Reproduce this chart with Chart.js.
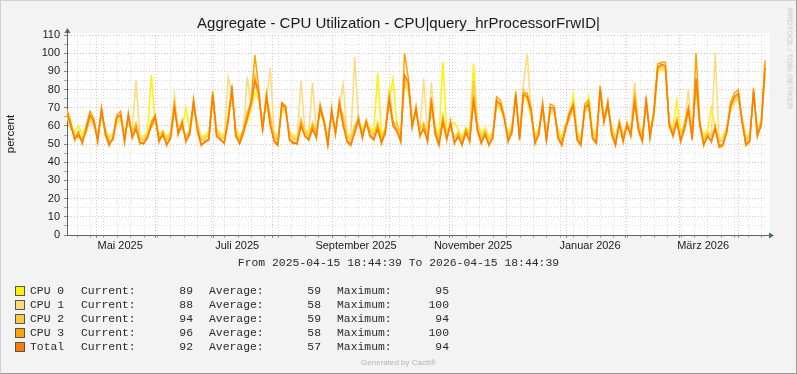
<!DOCTYPE html>
<html>
<head>
<meta charset="utf-8">
<script src="https://cdn.jsdelivr.net/npm/chart.js@4/dist/chart.umd.min.js"></script>
<style>
  html, body { margin: 0; padding: 0; }
  body { width: 797px; height: 374px; position: relative; overflow: hidden; background: #F3F3F3; }
  #frame { position: absolute; left: 0; top: 0; width: 797px; height: 374px; box-sizing: border-box;
           border-top: 1px solid #D0D0D0; border-left: 1px solid #D0D0D0;
           border-right: 1px solid #9A9A9A; border-bottom: 1px solid #9A9A9A; }
  #myChart { position: absolute; left: 0; top: 0; }
  .txt { position: absolute; white-space: pre; font-family: "Liberation Sans", Arial, sans-serif; color: #1a1a1a; }
  .mono { position: absolute; white-space: pre; font-family: "Liberation Mono", monospace; font-size: 11.4px; color: #2a2a2a; line-height: 14px; }
  .sw { position: absolute; width: 8px; height: 8px; border: 1px solid #555; }
</style>
</head>
<body>
<div id="frame"></div>
<canvas id="myChart" width="797" height="374"></canvas>
<div class="txt" id="title" style="left:0; width:797px; top:14px; text-align:center; font-size:15px;"></div>
<div class="txt" id="ylabel" style="left:-22px; top:128px; width:64px; text-align:center; font-size:11.5px; transform:rotate(-90deg);">percent</div>
<div class="txt" id="vendor" style="left:739px; top:54px; width:102px; text-align:center; font-size:8px; color:#C4C4C4; transform:rotate(90deg);">RRDTOOL / TOBI OETIKER</div>
<div class="mono" id="range" style="left:0; width:797px; top:256px; text-align:center;"></div>
<div id="legend"></div>
<div class="txt" style="left:0; width:797px; top:358px; text-align:center; font-size:8px; color:#B4B4B4;">Generated by Cacti®</div>
<script>
var chartTitle = "Aggregate - CPU Utilization - CPU|query_hrProcessorFrwID|";
var rangeText = "From 2025-04-15 18:44:39 To 2026-04-15 18:44:39";
var startTime = Date.UTC(2025, 3, 15, 18, 44, 39);
var endTime = Date.UTC(2026, 3, 15, 18, 44, 39);
var stepDays = 2;

var seriesNames = ["CPU 0", "CPU 1", "CPU 2", "CPU 3", "Total"];
var seriesColors = ["#FFF200", "#FFDA7A", "#FFC640", "#FFA300", "#FF7C00"];
var legendCurrent = [89, 88, 94, 96, 92];
var legendAverage = [59, 58, 59, 58, 57];
var legendMaximum = [95, 100, 94, 100, 94];

// x tick labels (month the label belongs to, text)
var xLabelMonths = [[2025, 4], [2025, 6], [2025, 8], [2025, 10], [2026, 0], [2026, 2]];
var xLabelTexts = ["Mai 2025", "Juli 2025", "September 2025", "November 2025", "Januar 2026", "März 2026"];
var yTickLabels = [0, 10, 20, 30, 40, 50, 60, 70, 80, 90, 100, 110];

// one value every 2 days
var cpu0 = [
  65, 58, 57, 60, 55, 60, 63, 61, 56, 65,
  58, 54, 56, 61, 63, 56, 62, 57, 60, 55,
  54, 57, 88, 61, 56, 57, 54, 57, 68, 59,
  58, 70, 57, 69, 62, 54, 55, 57, 76, 59,
  56, 55, 63, 76, 59, 54, 58, 62, 69, 78,
  74, 62, 73, 61, 57, 54, 68, 67, 57, 55,
  54, 61, 59, 56, 60, 58, 67, 62, 54, 65,
  60, 69, 61, 56, 54, 60, 62, 58, 63, 59,
  57, 89, 55, 59, 73, 86, 61, 56, 82, 79,
  62, 66, 59, 61, 56, 70, 60, 54, 95, 57,
  60, 62, 58, 54, 59, 57, 94, 62, 56, 59,
  54, 57, 71, 69, 64, 56, 60, 74, 57, 76,
  74, 65, 55, 59, 68, 56, 67, 67, 58, 54,
  61, 63, 77, 57, 54, 67, 76, 58, 55, 77,
  63, 69, 60, 54, 62, 56, 59, 59, 72, 61,
  56, 71, 58, 64, 89, 91, 90, 62, 59, 74,
  56, 60, 67, 57, 80, 60, 55, 58, 70, 59,
  53, 54, 60, 68, 73, 75, 64, 54, 56, 76,
  59, 62, 89
];
var cpu1 = [
  68, 59, 56, 53, 54, 56, 64, 60, 55, 66,
  57, 53, 55, 62, 64, 55, 63, 58, 85, 54,
  53, 56, 59, 62, 55, 56, 53, 56, 77, 57,
  59, 55, 56, 70, 61, 53, 54, 56, 75, 58,
  55, 54, 87, 78, 58, 53, 57, 87, 70, 83,
  75, 61, 74, 92, 56, 53, 69, 69, 56, 54,
  53, 85, 58, 55, 84, 57, 68, 63, 53, 66,
  59, 70, 83, 55, 53, 98, 62, 57, 61, 58,
  56, 60, 54, 57, 80, 62, 60, 55, 84, 80,
  63, 67, 57, 86, 55, 84, 59, 53, 64, 56,
  59, 54, 57, 53, 57, 56, 85, 61, 54, 58,
  53, 56, 72, 70, 65, 55, 59, 75, 56, 83,
  100, 66, 54, 58, 69, 55, 68, 68, 57, 53,
  60, 64, 70, 56, 53, 68, 70, 57, 54, 78,
  64, 70, 59, 53, 63, 55, 60, 58, 84, 62,
  55, 72, 57, 65, 90, 92, 91, 63, 58, 63,
  55, 61, 80, 56, 82, 61, 53, 57, 55, 100,
  52, 53, 59, 69, 74, 76, 65, 53, 55, 77,
  58, 63, 88
];
var cpu2 = [
  66, 61, 55, 54, 53, 57, 65, 63, 54, 67,
  58, 52, 52, 64, 65, 54, 64, 56, 62, 53,
  52, 55, 63, 64, 54, 54, 52, 55, 71, 58,
  60, 54, 58, 72, 60, 52, 53, 55, 78, 57,
  54, 53, 66, 79, 57, 52, 58, 68, 71, 88,
  77, 60, 75, 66, 54, 52, 71, 68, 55, 53,
  52, 64, 57, 54, 62, 56, 69, 64, 52, 67,
  58, 71, 66, 54, 52, 60, 64, 56, 63, 57,
  55, 62, 53, 58, 78, 61, 62, 54, 86, 82,
  62, 68, 58, 62, 54, 72, 58, 52, 66, 55,
  60, 53, 56, 52, 58, 55, 85, 60, 53, 57,
  52, 55, 73, 71, 66, 54, 58, 76, 55, 80,
  75, 67, 53, 57, 70, 54, 69, 69, 56, 52,
  59, 65, 73, 55, 52, 69, 71, 56, 53, 79,
  63, 71, 58, 52, 62, 54, 61, 57, 78, 60,
  54, 73, 56, 66, 91, 93, 92, 62, 57, 64,
  54, 62, 70, 55, 84, 62, 52, 56, 54, 60,
  51, 52, 58, 70, 75, 77, 64, 52, 54, 78,
  57, 62, 94
];
var cpu3 = [
  69, 62, 52, 57, 50, 60, 68, 64, 51, 70,
  55, 49, 54, 66, 68, 51, 67, 53, 60, 50,
  51, 53, 62, 66, 51, 57, 49, 54, 72, 55,
  63, 51, 57, 75, 57, 49, 52, 52, 79, 54,
  53, 50, 64, 82, 54, 51, 58, 66, 74, 99,
  80, 57, 78, 62, 51, 49, 73, 71, 52, 50,
  51, 62, 54, 53, 60, 53, 72, 63, 49, 70,
  55, 74, 62, 51, 49, 57, 65, 53, 63, 54,
  52, 60, 50, 58, 76, 62, 58, 51, 100, 86,
  59, 71, 54, 60, 51, 75, 55, 49, 64, 52,
  63, 50, 55, 49, 58, 51, 76, 57, 50, 56,
  49, 54, 76, 74, 65, 51, 58, 79, 52, 78,
  78, 70, 50, 56, 73, 51, 72, 71, 53, 49,
  60, 68, 72, 52, 49, 72, 74, 53, 50, 82,
  63, 74, 55, 49, 62, 51, 62, 54, 75, 57,
  51, 76, 53, 69, 94, 95, 95, 61, 54, 63,
  51, 60, 70, 52, 100, 62, 49, 55, 51, 60,
  48, 49, 57, 73, 78, 80, 63, 49, 51, 81,
  54, 62, 96
];
var total = [
  67, 60, 53, 55, 51, 58, 66, 62, 52, 69,
  56, 50, 53, 65, 66, 52, 66, 54, 58, 51,
  50, 54, 60, 65, 52, 55, 50, 53, 70, 56,
  61, 52, 55, 73, 58, 50, 51, 53, 77, 55,
  52, 51, 62, 80, 55, 50, 56, 64, 72, 85,
  78, 58, 76, 60, 52, 50, 72, 70, 53, 51,
  50, 60, 55, 52, 58, 54, 70, 62, 50, 68,
  56, 72, 60, 52, 50, 56, 63, 54, 62, 55,
  53, 58, 51, 56, 74, 60, 57, 52, 88, 84,
  60, 69, 55, 58, 52, 73, 56, 50, 62, 53,
  61, 51, 54, 50, 56, 52, 74, 58, 51, 55,
  50, 53, 74, 72, 64, 52, 56, 77, 53, 77,
  76, 68, 51, 55, 71, 52, 70, 70, 54, 50,
  58, 66, 71, 53, 50, 70, 72, 54, 51, 80,
  62, 72, 56, 50, 61, 52, 60, 55, 73, 58,
  52, 74, 54, 67, 92, 94, 93, 60, 55, 62,
  52, 58, 69, 53, 86, 60, 50, 54, 52, 58,
  49, 50, 56, 71, 76, 78, 62, 50, 52, 79,
  55, 60, 92
];

var series = [cpu0, cpu1, cpu2, cpu3, total];
var DAY = 86400000;
var spanDays = (endTime - startTime) / DAY;
var axisColor = "#4E6A6A";
var majorGrid = "rgba(226, 130, 130, 0.55)";
var minorGrid = "rgba(185, 185, 185, 0.45)";

function toDay(t) { return (t - startTime) / DAY; }

// x ticks: mondays (minor), month starts (major), label positions (no line)
function buildXTicks() {
    var ticks = [];
    var monthStarts = [];
    for (var y = 2025; y <= 2026; y++) {
        for (var m = 0; m < 12; m++) {
            var d = toDay(Date.UTC(y, m, 1));
            if (d > 0 && d < spanDays) { monthStarts.push(d); ticks.push({ value: d, kind: "m" }); }
        }
    }
    for (var t = Date.UTC(2025, 3, 21); t < endTime; t += 7 * DAY) {
        var wd = toDay(t);
        var clash = monthStarts.some(function (ms) { return Math.abs(ms - wd) < 0.01; });
        if (!clash) ticks.push({ value: wd, kind: "w" });
    }
    for (var i = 0; i < xLabelMonths.length; i++) {
        var ld = toDay(Date.UTC(xLabelMonths[i][0], xLabelMonths[i][1], 1)) + 12.5;
        ticks.push({ value: ld, kind: "l", lbl: xLabelTexts[i] });
    }
    ticks.sort(function (a, b) { return a.value - b.value; });
    return ticks;
}

function buildYTicks() {
    var ticks = [];
    for (var v = 0; v <= 110; v += 5) {
        ticks.push({ value: v, kind: yTickLabels.indexOf(v) >= 0 ? "m" : "w" });
    }
    return ticks;
}

function gridColor(c) {
    if (!c.tick) return "rgba(0,0,0,0)";
    if (c.tick.kind === "l" || c.tick.value === 0) return "rgba(0,0,0,0)";
    return c.tick.kind === "m" ? majorGrid : minorGrid;
}
function tickMarkColor(c) {
    if (!c.tick || c.tick.kind === "l") return "rgba(0,0,0,0)";
    return c.tick.kind === "m" ? "#C87070" : "#A8A8A8";
}

var framePlugin = {
    id: "framePlugin",
    beforeDraw: function (chart) {
        var a = chart.chartArea, c = chart.ctx;
        c.save();
        c.fillStyle = "#FFFFFF";
        c.fillRect(a.left, a.top - 2, a.right - a.left + 2, a.bottom - a.top + 2);
        c.restore();
    },
    afterDraw: function (chart) {
        var a = chart.chartArea, c = chart.ctx;
        var lx = Math.round(a.left) + 0.5, by = Math.round(a.bottom) + 0.5;
        c.save();
        c.strokeStyle = axisColor;
        c.fillStyle = axisColor;
        c.lineWidth = 1;
        c.beginPath();
        c.moveTo(lx, a.top); c.lineTo(lx, a.top - 3);
        c.moveTo(a.right, by); c.lineTo(a.right + 3, by);
        c.stroke();
        c.beginPath();
        c.moveTo(lx, a.top - 7); c.lineTo(lx - 3, a.top - 2); c.lineTo(lx + 3, a.top - 2);
        c.closePath(); c.fill();
        c.beginPath();
        c.moveTo(a.right + 7, by); c.lineTo(a.right + 2, by - 3); c.lineTo(a.right + 2, by + 3);
        c.closePath(); c.fill();
        c.restore();
    }
};

function createChart() {
    var datasets = [];
    for (var s = 0; s < series.length; s++) {
        var pts = [];
        for (var i = 0; i < series[s].length; i++) {
            pts.push({ x: i * stepDays, y: series[s][i] });
        }
        datasets.push({
            label: seriesNames[s],
            data: pts,
            borderColor: seriesColors[s],
            backgroundColor: seriesColors[s],
            borderWidth: 1.5,
            pointRadius: 0,
            tension: 0,
            fill: false,
            order: series.length - s
        });
    }

    new Chart("myChart", {
        type: "line",
        data: { datasets: datasets },
        plugins: [framePlugin],
        options: {
            responsive: false,
            animation: false,
            layout: { padding: { left: 0, top: 35, right: 30, bottom: 119 } },
            plugins: { legend: { display: false }, tooltip: { enabled: false }, title: { display: false } },
            scales: {
                x: {
                    type: "linear",
                    min: 0,
                    max: spanDays,
                    afterBuildTicks: function (scale) { scale.ticks = buildXTicks(); },
                    afterFit: function (scale) { scale.height = 20; },
                    grid: { color: gridColor, tickColor: tickMarkColor, lineWidth: 1, tickLength: 3 },
                    border: { display: true, color: axisColor, width: 1, dash: [1, 2] },
                    ticks: {
                        autoSkip: false, maxRotation: 0, padding: 1,
                        color: "#1a1a1a",
                        font: { family: "Liberation Sans", size: 11 },
                        callback: function (v, i, t) { return t[i].lbl || ""; }
                    }
                },
                y: {
                    min: 0,
                    max: 110,
                    afterBuildTicks: function (scale) { scale.ticks = buildYTicks(); },
                    afterFit: function (scale) { scale.width = 67; },
                    grid: { color: gridColor, tickColor: tickMarkColor, lineWidth: 1, tickLength: 3 },
                    border: { display: true, color: axisColor, width: 1, dash: [1, 2] },
                    ticks: {
                        autoSkip: false, padding: 4,
                        color: "#1a1a1a",
                        font: { family: "Liberation Sans", size: 11 },
                        callback: function (v, i, t) { return t[i].kind === "m" ? String(v) : ""; }
                    }
                }
            }
        }
    });
}

function createLegend() {
    document.getElementById("title").textContent = chartTitle;
    document.getElementById("range").textContent = rangeText;
    var box = document.getElementById("legend");
    var html = "";
    for (var i = 0; i < seriesNames.length; i++) {
        var cy = 291 + i * 14;
        var top = cy - 7;
        html += '<div class="sw" style="left:15px; top:' + (cy - 5) + 'px; background:' + seriesColors[i] + ';"></div>'
            + '<div class="mono" style="left:30px; top:' + top + 'px;">' + seriesNames[i] + '</div>'
            + '<div class="mono" style="left:81px; top:' + top + 'px;">Current:</div>'
            + '<div class="mono" style="left:143px; width:50px; text-align:right; top:' + top + 'px;">' + legendCurrent[i] + '</div>'
            + '<div class="mono" style="left:209px; top:' + top + 'px;">Average:</div>'
            + '<div class="mono" style="left:271px; width:50px; text-align:right; top:' + top + 'px;">' + legendAverage[i] + '</div>'
            + '<div class="mono" style="left:337px; top:' + top + 'px;">Maximum:</div>'
            + '<div class="mono" style="left:399px; width:50px; text-align:right; top:' + top + 'px;">' + legendMaximum[i] + '</div>';
    }
    box.innerHTML = html;
}

createLegend();
createChart();
</script>
</body>
</html>
